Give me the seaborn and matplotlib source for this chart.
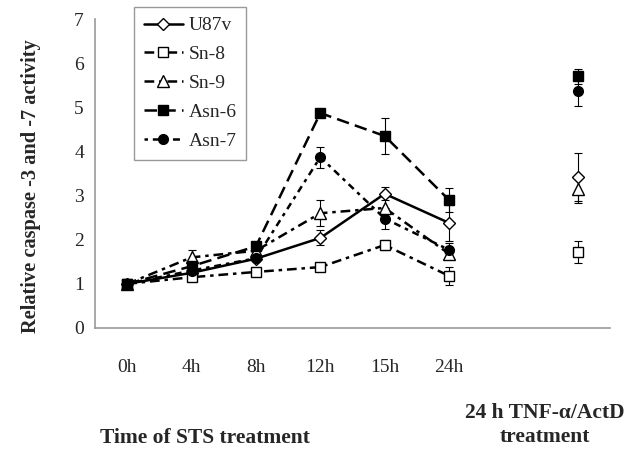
import numpy as np
import pandas as pd
import matplotlib
matplotlib.use("Agg")
import matplotlib.pyplot as plt
import seaborn as sns

# ---- data ----
categories = ["0h", "4h", "8h", "12h", "15h", "24h"]
tnf_label = "24 h TNF-\u03b1/ActD\ntreatment"
series_names = ["U87v", "Sn-8", "Sn-9", "Asn-6", "Asn-7"]

u87v = [1.00, 1.25, 1.57, 2.04, 3.04, 2.38]
sn8 = [1.00, 1.15, 1.27, 1.38, 1.88, 1.18]
sn9 = [1.00, 1.60, 1.75, 2.60, 2.72, 1.68]
asn6 = [1.00, 1.40, 1.85, 4.87, 4.35, 2.90]
asn7 = [1.00, 1.30, 1.58, 3.87, 2.48, 1.77]

u87v_err = [0.03, 0.05, 0.05, 0.17, 0.15, 0.40]
sn8_err = [0.03, 0.05, 0.05, 0.05, 0.12, 0.20]
sn9_err = [0.03, 0.17, 0.10, 0.30, 0.30, 0.10]
asn6_err = [0.03, 0.05, 0.10, 0.05, 0.40, 0.27]
asn7_err = [0.03, 0.05, 0.05, 0.24, 0.23, 0.15]

tnf_values = [3.42, 1.72, 3.15, 5.70, 5.37]
tnf_err = [0.55, 0.25, 0.32, 0.17, 0.34]

values = [u87v, sn8, sn9, asn6, asn7]
errors = [u87v_err, sn8_err, sn9_err, asn6_err, asn7_err]

# ---- style ----
sns.set_theme(style="white")
plt.rcParams["font.family"] = ["Liberation Serif", "DejaVu Serif"]
plt.rcParams["lines.scale_dashes"] = False

styles = {
    "U87v": dict(ls="-", marker="D", ms=6.5, mfc="white"),
    "Sn-8": dict(ls=(0, (7, 3.5, 2.5, 3.5)), marker="s", ms=7, mfc="white"),
    "Sn-9": dict(ls=(0, (7, 3.5, 2.5, 3.5)), marker="^", ms=8.5, mfc="white"),
    "Asn-6": dict(ls=(0, (9, 4.5)), marker="s", ms=7, mfc="black"),
    "Asn-7": dict(ls=(0, (2.5, 3.5, 5, 3.5)), marker="o", ms=7, mfc="black"),
}

fig = plt.figure(figsize=(6.33, 4.55), dpi=100)
ax = fig.add_axes([95 / 633, 1 - 328 / 455, 515 / 633, 309 / 455])

x_pos = np.arange(len(categories))
tnf_pos = len(categories) + 1

for name, vals, errs, tval, terr in zip(series_names, values, errors, tnf_values, tnf_err):
    st = styles[name]
    sns.lineplot(x=x_pos, y=vals, ax=ax, color="black", lw=1.8,
                 linestyle=st["ls"], marker=st["marker"], markersize=st["ms"],
                 markerfacecolor=st["mfc"], markeredgecolor="black",
                 markeredgewidth=1.0, label=name, sort=False, errorbar=None)
    ax.errorbar(x_pos, vals, yerr=errs, fmt="none", ecolor="black",
                elinewidth=0.8, capsize=3, capthick=0.8, zorder=1)
    ax.errorbar([tnf_pos], [tval], yerr=[terr], fmt="none", ecolor="black",
                elinewidth=0.8, capsize=3, capthick=0.8, zorder=1)
    sns.lineplot(x=[tnf_pos], y=[tval], ax=ax, color="black", lw=0,
                 marker=st["marker"], markersize=st["ms"],
                 markerfacecolor=st["mfc"], markeredgecolor="black",
                 markeredgewidth=1.0, legend=False, errorbar=None)

ax.set_xlim(-0.5, tnf_pos + 0.5)
ax.set_ylim(0, 7)
ax.set_yticks(range(0, 8))
ax.set_xticks(np.arange(-0.5, tnf_pos + 1, 1.0))
ax.set_xticklabels([])
ax.set_xticks(x_pos, minor=True)
ax.set_xticklabels(categories, minor=True)
ax.tick_params(axis="x", which="minor", length=0, pad=22, labelsize=14)
ax.tick_params(axis="x", which="major", length=5, width=1, color="#999999", direction="out")
ax.tick_params(axis="y", length=5, width=1, color="#999999", direction="out",
               labelsize=14, pad=3)
ax.set_xlabel("")
ax.set_ylabel("Relative caspase -3 and -7 activity", fontsize=14.7, fontweight="bold")
ax.yaxis.set_label_coords(-0.105, 0.46)

for s in ["top", "right"]:
    ax.spines[s].set_visible(False)
for s in ["left", "bottom"]:
    ax.spines[s].set_color("#999999")
    ax.spines[s].set_linewidth(1.2)

leg = ax.legend(loc="upper left", bbox_to_anchor=((134 - 95) / 515, (328 - 7) / 309),
                borderaxespad=0, fontsize=14, handlelength=2.0, labelspacing=0.58,
                handletextpad=0.3, borderpad=0.5, fancybox=False, frameon=True,
                framealpha=1)
leg.get_frame().set_edgecolor("#999999")
leg.get_frame().set_linewidth(1.0)

fig.text(205 / 633, 1 - 438 / 455, "Time of STS treatment", ha="center", va="center",
         fontsize=15.5, fontweight="bold")
fig.text(545 / 633, 1 - 425 / 455, tnf_label, ha="center", va="center",
         fontsize=15.5, fontweight="bold", linespacing=1.3)

fig.savefig("out.png", dpi=100)
